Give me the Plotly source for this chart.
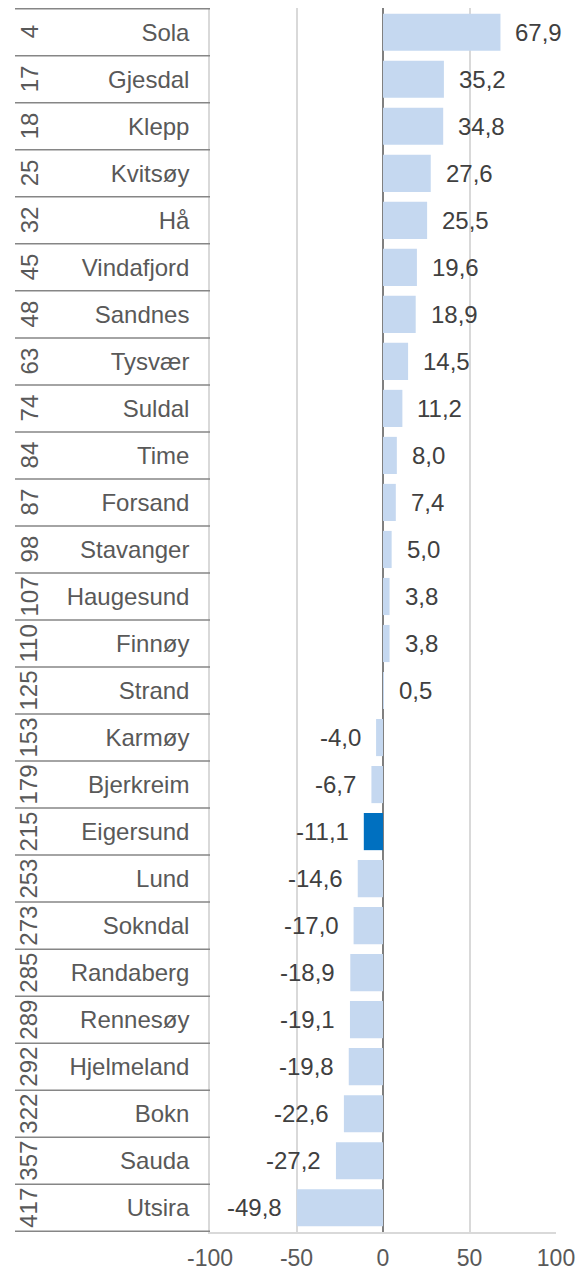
import plotly.graph_objects as go

ranks = [4, 17, 18, 25, 32, 45, 48, 63, 74, 84, 87, 98, 107, 110, 125, 153, 179,
         215, 253, 273, 285, 289, 292, 322, 357, 417]
names = ["Sola", "Gjesdal", "Klepp", "Kvitsøy", "Hå", "Vindafjord", "Sandnes",
         "Tysvær", "Suldal", "Time", "Forsand", "Stavanger", "Haugesund", "Finnøy",
         "Strand", "Karmøy", "Bjerkreim", "Eigersund", "Lund", "Sokndal",
         "Randaberg", "Rennesøy", "Hjelmeland", "Bokn", "Sauda", "Utsira"]
values = [67.9, 35.2, 34.8, 27.6, 25.5, 19.6, 18.9, 14.5, 11.2, 8.0, 7.4, 5.0,
          3.8, 3.8, 0.5, -4.0, -6.7, -11.1, -14.6, -17.0, -18.9, -19.1, -19.8,
          -22.6, -27.2, -49.8]
highlight = "Eigersund"
x_ticks = [-100, -50, 0, 50, 100]

FONT = "Liberation Sans, Arial, sans-serif"
TXT = "#404040"
AXT = "#595959"
W, H = 584, 1271
ML, MR, MT, MB = 210, 28, 8, 39
plot_w = W - ML - MR

colors = ["#0070c0" if n == highlight else "#c5d8f0" for n in names]

fig = go.Figure(go.Bar(
    x=values, y=names, orientation="h",
    marker=dict(color=colors, line=dict(width=0)),
    hoverinfo="x+y",
))

# data labels
for n, v in zip(names, values):
    fig.add_annotation(
        x=v, y=n, xref="x", yref="y", showarrow=False,
        text=f"{v:.1f}".replace(".", ","),
        xanchor="left" if v >= 0 else "right",
        xshift=13 if v >= 0 else -13,
        font=dict(family=FONT, size=24, color=TXT),
    )

# rank labels (rotated)
for n, r in zip(names, ranks):
    fig.add_annotation(
        x=0, y=n, xref="paper", yref="y", showarrow=False,
        text=str(r), textangle=-90, xanchor="center", yanchor="middle",
        xshift=-181,
        font=dict(family=FONT, size=24, color=AXT),
    )

# category separators
x_left = -(ML - 15) / plot_w
for i in range(len(names) + 1):
    fig.add_shape(
        type="line", xref="paper", yref="y",
        x0=x_left, x1=0, y0=i - 0.5, y1=i - 0.5,
        line=dict(color="#868686", width=1.5),
    )

fig.update_layout(
    width=W, height=H,
    margin=dict(l=ML, r=MR, t=MT, b=MB),
    plot_bgcolor="white", paper_bgcolor="white",
    bargap=0.21,
    showlegend=False,
    font=dict(family=FONT, size=24, color=TXT),
    xaxis=dict(
        range=[-100, 100], tickvals=x_ticks,
        ticktext=[str(t) for t in x_ticks],
        showgrid=True, gridcolor="#d9d9d9", gridwidth=1.5,
        zeroline=True, zerolinecolor="#808080", zerolinewidth=2,
        showline=True, linecolor="#d9d9d9", linewidth=1.5,
        ticks="", ticklabelstandoff=5, automargin=False,
        tickfont=dict(family=FONT, size=23, color=AXT),
    ),
    yaxis=dict(
        type="category", categoryorder="array", categoryarray=names,
        autorange="reversed",
        showgrid=False, zeroline=False,
        showline=True, linecolor="#d9d9d9", linewidth=1.5,
        ticks="", ticklabelstandoff=14, automargin=False,
        tickfont=dict(family=FONT, size=24, color=AXT),
    ),
)

# remove the browser's default 8px body margin so the figure fills the window
fig.write_html("out.html", post_script="document.body.style.margin='0px';",
               config={"displayModeBar": False})
